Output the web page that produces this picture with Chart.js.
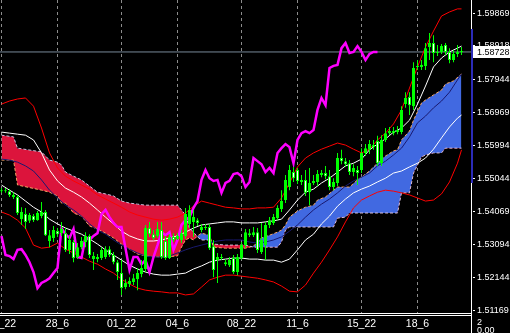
<!DOCTYPE html>
<html>
<head>
<meta charset="utf-8">
<title>Ichimoku chart</title>
<script src="https://cdn.jsdelivr.net/npm/chart.js@4.4.0/dist/chart.umd.min.js"></script>
<style>
  html, body { margin: 0; padding: 0; background: #000; overflow: hidden; }
  canvas { display: block; }
</style>
</head>
<body>
<canvas id="chart" width="510" height="333"></canvas>
<script>
// --- axis setup ---
const xMin = -0.375, xMax = 117.375;
const yMin = 1.51081, yMax = 1.60250;
const gridIdx = [0, 14, 30, 44, 60, 74, 90, 104];
const timeLabels = ['25_22', '28_6', '01_22', '04_6', '08_22', '11_6', '15_22', '18_6'];
const priceTicks = [1.59869, 1.58918, 1.57944, 1.56969, 1.55994, 1.55044, 1.54069, 1.53094, 1.52144, 1.51169];
const lastPrice = 1.58728;

// --- candles (one per bar) ---
const open = [1.5465,1.5468,1.5465,1.5454,1.5448,1.5383,1.5398,1.5378,1.5392,1.5380,
1.5392,1.5404,1.5319,1.5328,1.5348,1.5342,1.5342,1.5293,1.5316,1.5272,
1.5301,1.5316,1.5334,1.5266,1.5272,1.5269,1.5272,1.5295,1.5278,1.5257,
1.5225,1.5184,1.5193,1.5199,1.5207,1.5222,1.5237,1.5357,1.5339,1.5334,
1.5351,1.5319,1.5269,1.5331,1.5325,1.5322,1.5334,1.5369,1.5375,1.5380,
1.5351,1.5357,1.5360,1.5304,1.5263,1.5269,1.5257,1.5248,1.5269,1.5228,
1.5269,1.5307,1.5342,1.5336,1.5345,1.5287,1.5307,1.5366,1.5372,1.5386,
1.5413,1.5439,1.5477,1.5521,1.5527,1.5492,1.5498,1.5462,1.5489,1.5492,
1.5512,1.5518,1.5509,1.5477,1.5489,1.5562,1.5553,1.5547,1.5521,1.5527,
1.5527,1.5577,1.5586,1.5600,1.5612,1.5547,1.5615,1.5635,1.5641,1.5638,
1.5638,1.5720,1.5741,1.5714,1.5829,1.5829,1.5832,1.5887,1.5899,1.5870,
1.5873,1.5893,1.5873,1.5849,1.5867,1.5873];
const high = [1.5474,1.5474,1.5471,1.5462,1.5454,1.5418,1.5416,1.5401,1.5398,1.5407,
1.5433,1.5410,1.5351,1.5363,1.5357,1.5375,1.5357,1.5334,1.5322,1.5313,
1.5331,1.5345,1.5339,1.5287,1.5281,1.5301,1.5304,1.5304,1.5287,1.5263,
1.5263,1.5207,1.5213,1.5222,1.5240,1.5263,1.5366,1.5375,1.5351,1.5375,
1.5375,1.5334,1.5339,1.5342,1.5342,1.5351,1.5416,1.5424,1.5410,1.5386,
1.5369,1.5369,1.5369,1.5322,1.5284,1.5281,1.5266,1.5272,1.5278,1.5281,
1.5316,1.5354,1.5354,1.5360,1.5357,1.5372,1.5375,1.5389,1.5398,1.5424,
1.5468,1.5512,1.5542,1.5536,1.5533,1.5512,1.5527,1.5533,1.5512,1.5527,
1.5527,1.5539,1.5527,1.5503,1.5577,1.5586,1.5562,1.5556,1.5544,1.5539,
1.5591,1.5603,1.5615,1.5615,1.5627,1.5629,1.5650,1.5653,1.5653,1.5656,
1.5714,1.5755,1.5755,1.5843,1.5849,1.5849,1.5899,1.5928,1.5922,1.5893,
1.5896,1.5899,1.5884,1.5878,1.5893,1.5887];
const low = [1.5460,1.5460,1.5448,1.5442,1.5395,1.5366,1.5354,1.5372,1.5375,1.5378,
1.5386,1.5334,1.5301,1.5316,1.5331,1.5334,1.5287,1.5281,1.5257,1.5266,
1.5295,1.5301,1.5269,1.5234,1.5257,1.5263,1.5266,1.5272,1.5251,1.5205,
1.5161,1.5178,1.5184,1.5190,1.5175,1.5213,1.5228,1.5331,1.5322,1.5328,
1.5266,1.5263,1.5266,1.5316,1.5322,1.5313,1.5325,1.5357,1.5331,1.5363,
1.5345,1.5351,1.5293,1.5213,1.5196,1.5263,1.5246,1.5243,1.5222,1.5219,
1.5263,1.5298,1.5331,1.5331,1.5284,1.5281,1.5263,1.5357,1.5366,1.5380,
1.5404,1.5430,1.5468,1.5492,1.5486,1.5483,1.5451,1.5424,1.5483,1.5480,
1.5506,1.5500,1.5468,1.5468,1.5480,1.5544,1.5536,1.5512,1.5509,1.5483,
1.5518,1.5568,1.5574,1.5586,1.5539,1.5539,1.5609,1.5629,1.5629,1.5632,
1.5632,1.5709,1.5688,1.5703,1.5820,1.5820,1.5820,1.5849,1.5843,1.5861,
1.5867,1.5864,1.5840,1.5843,1.5858,1.5864];
const close = [1.5468,1.5465,1.5454,1.5448,1.5401,1.5404,1.5375,1.5395,1.5380,1.5401,
1.5404,1.5336,1.5336,1.5351,1.5339,1.5354,1.5293,1.5322,1.5269,1.5301,
1.5319,1.5334,1.5278,1.5275,1.5266,1.5293,1.5295,1.5278,1.5257,1.5228,
1.5181,1.5196,1.5202,1.5210,1.5225,1.5240,1.5357,1.5339,1.5328,1.5354,
1.5272,1.5269,1.5331,1.5322,1.5334,1.5342,1.5398,1.5410,1.5389,1.5372,
1.5360,1.5360,1.5298,1.5234,1.5272,1.5272,1.5251,1.5263,1.5228,1.5272,
1.5307,1.5345,1.5336,1.5345,1.5293,1.5322,1.5366,1.5380,1.5389,1.5416,
1.5436,1.5498,1.5527,1.5503,1.5495,1.5498,1.5460,1.5489,1.5495,1.5515,
1.5518,1.5509,1.5477,1.5492,1.5562,1.5553,1.5544,1.5521,1.5533,1.5518,
1.5577,1.5591,1.5603,1.5594,1.5547,1.5615,1.5635,1.5641,1.5635,1.5644,
1.5703,1.5738,1.5717,1.5826,1.5832,1.5835,1.5884,1.5899,1.5870,1.5873,
1.5890,1.5873,1.5849,1.5867,1.5873,1.58728];

// chikou span = close drawn this many bars back
const chikouShift = 21;

// --- indicator lines, read every second bar ---
const lineIdx = [0,2,4,6,8,10,12,14,16,18,20,22,24,26,28,30,32,34,36,38,40,42,44,46,48,50,52,54,56,58,
  60,62,64,66,68,70,72,74,76,78,80,82,84,86,88,90,92,94,96,98,100,102,104,106,108,110,112,114,115];
const bbUpper = [1.5720,1.5729,1.5735,1.5738,1.5714,1.5650,1.5577,1.5533,1.5509,1.5495,
1.5483,1.5471,1.5454,1.5442,1.5430,1.5418,1.5404,1.5395,1.5389,1.5383,
1.5380,1.5383,1.5389,1.5401,1.5421,1.5436,1.5430,1.5424,1.5418,1.5416,
1.5413,1.5413,1.5416,1.5416,1.5418,1.5445,1.5489,1.5536,1.5562,1.5577,
1.5588,1.5597,1.5606,1.5600,1.5588,1.5577,1.5588,1.5615,1.5635,1.5662,
1.5703,1.5767,1.5829,1.5887,1.5934,1.5978,1.5990,1.5999,1.5999];
const bbLower = [1.5404,1.5395,1.5380,1.5357,1.5307,1.5298,1.5301,1.5313,1.5295,1.5284,
1.5272,1.5260,1.5251,1.5237,1.5225,1.5207,1.5193,1.5181,1.5175,1.5172,
1.5170,1.5167,1.5167,1.5161,1.5164,1.5184,1.5205,1.5213,1.5219,1.5219,
1.5216,1.5213,1.5210,1.5205,1.5199,1.5187,1.5172,1.5170,1.5190,1.5225,
1.5257,1.5293,1.5331,1.5375,1.5416,1.5439,1.5451,1.5462,1.5468,1.5465,
1.5460,1.5454,1.5445,1.5436,1.5439,1.5457,1.5492,1.5547,1.5586];
const whiteTop = [1.5638,1.5635,1.5632,1.5629,1.5615,1.5577,1.5527,1.5495,1.5474,1.5462,
1.5448,1.5430,1.5410,1.5389,1.5369,1.5348,1.5334,1.5325,1.5319,1.5319,
1.5322,1.5328,1.5334,1.5345,1.5357,1.5366,1.5369,1.5372,1.5375,1.5375,
1.5372,1.5372,1.5372,1.5375,1.5378,1.5383,1.5410,1.5439,1.5462,1.5471,
1.5489,1.5503,1.5521,1.5539,1.5547,1.5559,1.5586,1.5603,1.5618,1.5638,
1.5650,1.5673,1.5720,1.5773,1.5829,1.5855,1.5873,1.5884,1.5890];
const whiteLow = [1.5483,1.5468,1.5454,1.5436,1.5418,1.5404,1.5383,1.5369,1.5357,1.5348,
1.5339,1.5325,1.5310,1.5293,1.5278,1.5263,1.5248,1.5237,1.5228,1.5222,
1.5219,1.5219,1.5222,1.5225,1.5237,1.5246,1.5257,1.5263,1.5266,1.5269,
1.5269,1.5266,1.5266,1.5263,1.5263,1.5257,1.5266,1.5293,1.5322,1.5339,
1.5369,1.5392,1.5421,1.5442,1.5460,1.5471,1.5480,1.5492,1.5503,1.5518,
1.5524,1.5536,1.5547,1.5562,1.5588,1.5621,1.5653,1.5679,1.5688];
const navyLine = [1.5559,1.5556,1.5550,1.5539,1.5524,1.5498,1.5468,1.5445,1.5424,1.5410,
1.5392,1.5369,1.5351,1.5339,1.5322,1.5307,1.5295,1.5284,1.5275,1.5272,
1.5272,1.5275,1.5284,1.5293,1.5301,1.5307,1.5313,1.5319,1.5322,1.5322,
1.5322,1.5316,1.5313,1.5316,1.5322,1.5331,1.5348,1.5366,1.5389,1.5410,
1.5427,1.5442,1.5460,1.5480,1.5495,1.5506,1.5518,1.5539,1.5553,1.5571,
1.5591,1.5624,1.5665,1.5685,1.5709,1.5729,1.5755,1.5791,1.5808];

// --- cloud spans ---
const cloudIdx = [0,3,4,10,12,14,15,16,18,20,22,24,26,28,30,32,34,36,40,44,
  45,46,47,48,49,50,52,53,56,61,63,65,67,69,70,71,72,74,76,78,
  79,81,83,84,86,87,89,90,92,94,96,98,99,100,102,103,105,106,108,110,111,113,115];
const spanA = [1.5556,1.5556,1.5483,1.5468,1.5462,1.5451,1.5430,1.5430,1.5401,1.5392,
1.5363,1.5354,1.5342,1.5328,1.5310,1.5295,1.5281,1.5275,1.5272,1.5275,
1.5301,1.5322,1.5328,1.5322,1.5334,1.5342,1.5336,1.5301,1.5298,1.5298,
1.5304,1.5328,1.5336,1.5345,1.5351,1.5366,1.5389,1.5407,1.5418,1.5424,
1.5439,1.5448,1.5468,1.5477,1.5477,1.5477,1.5498,1.5506,1.5524,1.5547,
1.5568,1.5583,1.5586,1.5615,1.5641,1.5673,1.5723,1.5732,1.5747,1.5761,
1.5779,1.5788,1.5808];
const spanB = [1.5629,1.5624,1.5591,1.5580,1.5556,1.5550,1.5542,1.5521,1.5509,1.5498,
1.5480,1.5462,1.5457,1.5451,1.5436,1.5430,1.5427,1.5424,1.5424,1.5424,
1.5410,1.5395,1.5357,1.5345,1.5331,1.5322,1.5322,1.5310,1.5307,1.5307,
1.5301,1.5301,1.5301,1.5301,1.5316,1.5351,1.5360,1.5360,1.5360,1.5360,
1.5360,1.5360,1.5360,1.5386,1.5389,1.5401,1.5401,1.5401,1.5401,1.5401,
1.5401,1.5401,1.5401,1.5460,1.5460,1.5518,1.5565,1.5571,1.5577,1.5577,
1.5591,1.5591,1.5591];

// blue marker on the price scale
const scaleMarkTop = 1.5940, scaleMarkBottom = 1.5489;

const candleIdx = open.map((_, i) => i);
const pts = (idx, vals) => idx.map((v, k) => ({ x: v, y: vals[k] }));

function lineSet(label, data, color, width, order) {
    return { type: 'line', label, data, borderColor: color, borderWidth: width,
             pointRadius: 0, tension: 0, fill: false, order };
}

// frame, price scale, time labels
const mtFrame = {
    id: 'mtFrame',
    afterDraw(chart) {
        const { ctx, chartArea: a, scales: { x, y } } = chart;
        ctx.save();
        ctx.strokeStyle = '#ffffff';
        ctx.lineWidth = 1;
        ctx.beginPath();
        ctx.moveTo(0, a.bottom + 0.5); ctx.lineTo(a.right + 1, a.bottom + 0.5);
        ctx.moveTo(0, a.bottom + 2.5); ctx.lineTo(a.right + 1, a.bottom + 2.5);
        ctx.moveTo(a.right + 0.5, 0); ctx.lineTo(a.right + 0.5, chart.height);
        ctx.stroke();

        const mt = y.getPixelForValue(scaleMarkTop), mb = y.getPixelForValue(scaleMarkBottom);
        ctx.fillStyle = '#2b2bb8';
        ctx.fillRect(a.right, mt, 2, mb - mt);

        ctx.font = '9px "Liberation Sans", Arial, sans-serif';
        ctx.textBaseline = 'middle';
        ctx.textAlign = 'left';
        ctx.fillStyle = '#ffffff';
        priceTicks.forEach(v => {
            const py = Math.round(y.getPixelForValue(v));
            ctx.fillRect(a.right + 2, py, 2, 1);
            ctx.fillText(v.toFixed(5), a.right + 6, py + 0.5);
        });

        // current price box
        const pp = Math.round(y.getPixelForValue(lastPrice));
        ctx.fillStyle = '#ffffff';
        ctx.fillRect(a.right + 2, pp - 6, chart.width - a.right - 2, 12);
        ctx.fillStyle = '#000000';
        ctx.fillText(lastPrice.toFixed(5), a.right + 6, pp + 0.5);

        // time labels
        ctx.fillStyle = '#ffffff';
        ctx.font = '10.5px "Liberation Sans", Arial, sans-serif';
        ctx.textAlign = 'center';
        ctx.textBaseline = 'alphabetic';
        gridIdx.forEach((v, k) => ctx.fillText(timeLabels[k], x.getPixelForValue(v), a.bottom + 14));

        // sub window scale
        ctx.font = '9px "Liberation Sans", Arial, sans-serif';
        ctx.textAlign = 'left';
        ctx.fillText('2', a.right + 6, a.bottom + 12);
        ctx.fillText('0.00', a.right + 6, a.bottom + 20);
        ctx.restore();
    }
};

const ctx = document.getElementById('chart').getContext('2d');
new Chart(ctx, {
    type: 'line',
    data: {
        datasets: [
            { type: 'line', label: 'Senkou A', data: pts(cloudIdx, spanA), borderColor: '#f4a460',
              borderWidth: 1, borderDash: [3, 2], pointRadius: 0, tension: 0, order: 20,
              fill: { target: 1, above: '#4169e1', below: '#dc143c' } },
            { type: 'line', label: 'Senkou B', data: pts(cloudIdx, spanB), borderColor: '#d8bfd8',
              borderWidth: 1, borderDash: [3, 2], pointRadius: 0, tension: 0, fill: false, order: 19 },
            lineSet('BB upper', pts(lineIdx, bbUpper), '#ff0000', 1, 8),
            lineSet('BB lower', pts(lineIdx, bbLower), '#ff0000', 1, 8),
            lineSet('MA fast', pts(lineIdx, whiteTop), '#ffffff', 1, 7),
            lineSet('MA slow', pts(lineIdx, whiteLow), '#ffffff', 1, 7),
            lineSet('Kijun', pts(lineIdx, navyLine), '#191970', 1, 7),
            lineSet('Bid', [{ x: xMin, y: lastPrice }, { x: xMax, y: lastPrice }], '#778899', 1, 9),
            lineSet('Chikou', candleIdx.slice(0, open.length - chikouShift).map(i => ({ x: i, y: close[i + chikouShift] })),
                    '#ff00ff', 2.5, 4),
            { type: 'bar', label: 'wicks', data: candleIdx.map(i => ({ x: i, y: [low[i], high[i]] })),
              backgroundColor: '#00ff00', borderWidth: 0, barThickness: 1, grouped: false,
              inflateAmount: 0, order: 2 },
            { type: 'bar', label: 'bodies', data: candleIdx.map(i => ({ x: i, y: [open[i], close[i]] })),
              backgroundColor: candleIdx.map(i => close[i] > open[i] ? '#00ff00' : '#ffffff'),
              borderColor: '#00ff00', borderWidth: 1, borderSkipped: false, barThickness: 3,
              minBarLength: 1, grouped: false, inflateAmount: 0, order: 1 }
        ]
    },
    options: {
        responsive: false,
        animation: false,
        devicePixelRatio: 1,
        events: [],
        layout: { padding: 0 },
        plugins: { legend: { display: false }, tooltip: { enabled: false } },
        scales: {
            x: {
                type: 'linear', min: xMin, max: xMax, offset: false, position: 'bottom',
                ticks: { display: false },
                grid: { offset: false, color: '#8c8c8c', lineWidth: 1, drawTicks: false },
                border: { display: false, dash: [3, 3] },
                afterBuildTicks: s => { s.ticks = gridIdx.map(v => ({ value: v })); },
                afterFit: s => { s.height = 20; }
            },
            y: {
                type: 'linear', position: 'right', min: yMin, max: yMax, beginAtZero: false,
                ticks: { display: false },
                grid: { display: false },
                border: { display: false },
                afterFit: s => { s.width = 39; }
            }
        }
    },
    plugins: [mtFrame]
});
</script>
</body>
</html>
